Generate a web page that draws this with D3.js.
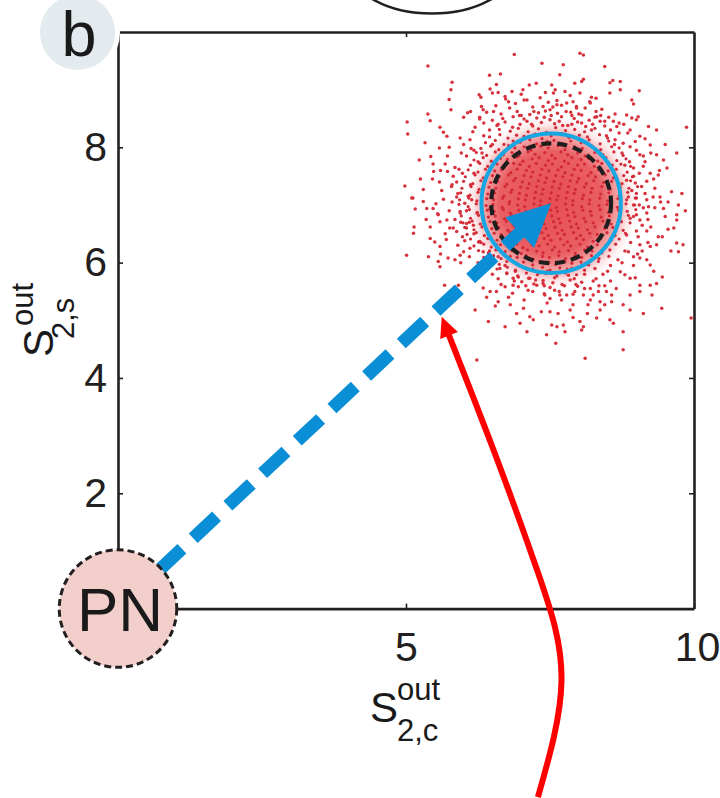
<!DOCTYPE html>
<html><head><meta charset="utf-8">
<script src="https://cdn.jsdelivr.net/npm/d3@7"></script>
<style>body{margin:0;background:#fff} svg{display:block}</style>
</head><body><svg id="c" width="720" height="798"></svg>
<script>
// ---------- data ----------
const xDomain = [0, 10];
const yDomain = [0, 10];
const xTicks = [5, 10];
const yTicks = [2, 4, 6, 8];
const xTickLabels = ["5", "10"];
const yTickLabels = ["2", "4", "6", "8"];
const pnCenter = [0, 0];
const pnRadius = 1.02;
const targetCenter = [7.52, 7.03];
const outerRadius = 1.21;
const innerRadius = 1.04;
const coreRadius = 1.5;
const redCurve = [[7.29,-3.27],[7.70,-1.24],[7.30,0.60],[6.52,2.75],[5.62,5.06]];
const topArc = [5.45, 11.08, 1.39, 0.76];
const cloudOuter = [
[6.88,9.61],[5.38,9.41],[7.36,9.46],[6.45,9.25],[6.64,9.27],[5.80,9.13],[6.57,9.09],[7.14,9.08],[7.26,9.11],[5.78,9.00],[6.46,9.01],[6.50,8.94],[6.27,8.91],[6.30,8.87],[6.72,8.88],[6.78,8.79],[6.84,8.97],[7.03,9.00],[7.10,8.82],[5.75,8.83],[5.02,8.44],[5.03,8.23],[5.38,8.58],[5.42,8.46],[5.78,8.65],[6.07,8.60],[6.00,8.52],[6.31,8.71],[6.34,8.65],[6.28,8.49],[5.59,8.35],[5.65,8.26],[5.71,8.19],[5.33,8.08],[5.58,7.99],[5.23,7.78],[5.43,7.84],[5.47,7.71],[4.98,7.33],[5.12,7.12],[5.30,7.27],[5.46,7.45],[5.58,7.40],[5.68,7.71],[5.72,7.58],[5.82,7.50],[5.79,7.32],[5.88,7.14],[5.94,8.16],[5.96,7.90],[6.11,8.13],[6.13,7.98],[6.16,8.27],
[8.02,9.63],[8.08,9.60],[7.73,9.43],[8.45,9.40],[7.67,9.26],[7.93,9.11],[8.05,9.14],[8.08,9.18],[8.54,9.12],[8.59,9.16],[8.72,9.14],[7.53,9.08],[7.59,9.00],[7.56,8.94],[7.76,8.97],[8.02,8.94],[8.22,8.87],[8.19,8.79],[8.54,8.94],[8.72,9.00],[9.05,8.98],[8.92,8.82],[8.95,8.75],[7.38,8.71],[7.50,8.65],[7.62,8.74],[7.79,8.77],[7.90,8.79],[7.96,8.68],[8.11,8.68],[8.31,8.53],[8.37,8.45],[8.45,8.45],[8.60,8.45],[8.66,8.36],[8.83,8.56],[8.92,8.51],[9.00,8.48],[9.03,8.53],[9.87,8.35],[8.89,8.30],[9.06,8.19],[9.21,8.36],[9.35,8.30],[8.63,8.13],[8.77,8.07],[8.89,8.01],[9.00,7.95],[9.06,7.87],[9.24,8.04],[9.35,7.87],[9.47,7.78],[9.70,7.90],[8.80,7.69],[8.95,7.64],[9.12,7.67],[9.24,7.55],[9.38,7.52],[9.53,7.64],[8.83,7.43],[8.98,7.38],[9.09,7.32],[9.18,7.41],[9.32,7.29],[9.41,7.14],[9.61,7.23],[9.79,7.20],[8.86,7.14],[9.00,7.12],[9.18,7.09],[9.29,7.14],
[9.73,7.00],[9.70,6.83],[9.70,6.74],[9.47,6.94],[9.50,6.80],[9.21,6.97],[9.18,6.86],[8.95,7.00],[9.00,6.83],[9.06,6.74],[8.89,6.77],[9.38,6.45],[9.35,6.31],[9.24,6.28],[9.06,6.31],[9.03,6.45],[9.70,6.34],[9.81,6.31],[9.73,6.19],[8.83,6.48],[8.86,6.19],[8.95,6.10],[9.06,6.08],[9.18,6.05],[9.24,5.96],[8.72,5.84],[8.80,5.79],[8.89,5.73],[8.98,5.74],[9.06,5.61],[9.24,5.61],[9.35,5.64],[8.89,5.44],[9.06,5.50],[9.27,5.44],[9.44,5.21],[9.95,5.04],[9.12,5.12],[8.89,5.18],[8.77,5.27],[8.57,5.32],[8.45,5.27],[8.37,5.18],[8.31,5.04],[8.54,5.01],[8.60,4.95],[8.77,4.80],[8.77,4.49],[8.11,4.34],[8.02,4.98],[8.08,4.89],[8.05,4.83],[7.73,4.92],[7.76,4.80],[7.62,4.89],[7.53,4.92],[7.44,4.75],[7.50,5.15],[7.64,5.12],[7.85,5.18],[7.90,5.27],[8.16,5.27],[8.37,5.32],[7.41,5.44],[7.50,5.38],[7.67,5.44],[7.79,5.44],[7.93,5.50],[8.08,5.44],[8.25,5.44],[8.34,5.50],[8.48,5.50],[8.57,5.44],
[5.10,7.12],[5.16,6.93],[5.14,6.62],[5.13,6.51],[5.01,6.13],[5.39,6.10],[5.42,6.42],[5.50,6.36],[5.59,6.28],[5.56,6.02],[5.59,5.93],[5.67,5.61],[5.91,5.61],[5.73,6.08],[5.85,6.05],[5.94,6.13],[6.00,6.19],[6.11,6.25],[5.30,7.06],[5.36,6.94],[5.47,6.94],[5.56,6.83],[5.59,6.71],[5.42,6.62],[5.71,6.74],[5.76,6.60],[5.88,6.54],[6.05,6.60],[6.17,6.65],[6.20,5.18],[6.43,4.98],[6.72,4.89],[6.23,4.31],[7.10,4.80],[6.60,5.32],[6.81,5.27],[6.92,5.12],[7.04,5.21],[7.15,5.06],[7.21,5.01],[6.34,5.56],[6.46,5.50],[6.57,5.50],[6.72,5.58],[6.86,5.61],[7.01,5.67],[7.15,5.73],[7.27,5.61],[7.38,5.64],[6.02,7.03],[6.14,7.09],[6.23,6.86],[6.34,6.80],[6.46,6.94],[5.94,6.86],[6.05,6.68],[6.46,6.42],[6.57,6.31],[6.26,6.36],[6.34,6.19],[6.46,5.96],[6.63,5.90],[6.75,5.82],[6.86,5.73],
[6.35,8.42],[6.58,8.38],[6.72,8.44],[6.98,8.40],[7.20,8.37],[7.35,8.43],[7.58,8.41],[7.81,8.38],[7.98,8.44],[8.24,8.40],[8.45,8.37],[8.70,8.42],
[6.28,8.52],[6.50,8.47],[6.86,8.53],[7.05,8.49],[7.27,8.51],[7.50,8.48],[7.70,8.53],[7.92,8.50],[8.18,8.47],[8.52,8.52],
[6.40,8.61],[6.65,8.58],[6.93,8.62],[7.15,8.57],[7.42,8.63],[7.63,8.59],[7.86,8.61],[8.05,8.56],[8.30,8.62],
[6.56,8.72],[6.90,8.76],[7.20,8.70],[7.47,8.78],[7.70,8.73],[7.96,8.71],[8.20,8.77],[6.73,8.84],[7.05,8.82],[7.33,8.86],[7.62,8.81],
[6.60,5.72],[6.88,5.68],[7.13,5.73],[7.38,5.69],[7.58,5.74],[7.85,5.70],[8.05,5.66],[8.30,5.72],[8.55,5.68],
[6.95,5.58],[7.22,5.63],[7.50,5.57],[7.71,5.62],[7.98,5.59],[8.20,5.55],[8.45,5.60],[6.85,5.47],[7.12,5.52],[7.40,5.46],[7.66,5.50],[7.90,5.45],
[9.15,7.75],[9.30,7.45],[9.12,6.95],[9.25,6.62],[9.42,7.05],[9.18,6.55],[9.55,6.58],[9.10,6.20],
[5.72,7.85],[5.60,7.60],[5.80,7.35],[5.65,7.10],[5.75,6.90],[5.55,6.85],[5.82,6.60],[5.70,6.40],[5.90,6.30],[5.85,7.65],[5.62,7.25],
[6.20,8.35],[6.45,8.30],[6.52,8.62],[6.68,8.50],[6.80,8.68],[6.97,8.55],[7.10,8.45],[7.22,8.62],[7.40,8.52],[7.55,8.70],[7.66,8.45],[7.78,8.62],[7.88,8.40],[8.00,8.58],[8.12,8.36],[8.28,8.52],[8.40,8.66],[8.55,8.30],[8.63,8.58],[8.78,8.40],[6.60,8.95],[7.00,8.92],[7.42,8.95],[7.85,8.90],[8.30,8.85],[6.12,8.62],[8.85,8.25],
[6.50,5.80],[6.65,5.62],[6.78,5.40],[6.95,5.75],[7.05,5.35],[7.20,5.50],[7.30,5.82],[7.45,5.30],[7.55,5.65],[7.70,5.35],[7.82,5.78],[7.95,5.62],[8.10,5.80],[8.20,5.35],[8.35,5.60],[8.50,5.85],[8.65,5.55],[8.75,6.00],[6.35,5.85],[6.25,6.00],[6.55,5.25],[7.35,5.15],[7.90,5.05],[8.15,5.12],[6.98,4.95],[7.60,4.60],[6.40,5.40],
[6.05,7.85],[5.92,7.62],[5.88,7.40],[5.80,7.05],[5.85,6.75],[5.98,6.45],[6.10,6.10],[6.18,7.95],[6.00,8.05],[5.75,8.00],[5.68,6.50],[5.52,7.02],[5.60,6.15],[5.95,6.00],[6.20,5.82],[5.48,7.58],[5.35,6.75],[5.25,7.45],
[9.05,7.55],[9.15,7.20],[9.10,6.65],[9.02,6.15],[8.95,5.95],[9.25,7.90],[9.32,6.95],[9.45,6.45],[9.20,6.35],[9.40,7.60],[9.55,7.05],[9.60,6.20],[8.98,8.10],[9.15,8.15],[9.50,8.05],[9.65,6.60],[9.85,6.90],[9.30,5.85],[9.45,5.75],
[6.35,8.20],[6.50,8.05],[6.60,8.40],[6.85,8.35],[7.00,8.55],[7.18,8.40],[7.30,8.60],[7.52,8.55],[7.72,8.38],[7.88,8.55],[8.05,8.42],[8.22,8.30],[8.38,8.55],[8.48,8.20],[8.62,8.05],[8.70,8.25],
[8.75,7.90],[8.88,7.75],[8.95,7.50],[8.92,7.25],[9.05,7.00],[8.95,6.80],[9.00,6.55],[8.90,6.35],[8.80,6.20],[8.68,6.05],[9.12,7.85],[9.20,6.75],
[8.55,5.95],[8.42,5.80],[8.25,5.68],[8.10,5.55],[7.92,5.72],[7.75,5.60],[7.58,5.52],[7.40,5.60],[7.25,5.70],[7.08,5.60],[6.90,5.85],[6.72,5.95],[6.60,6.10],[7.45,5.85],[7.88,5.90],[8.28,5.90],
[6.45,6.20],[6.30,6.35],[6.18,6.50],[6.10,6.70],[6.05,6.90],[6.08,7.15],[6.12,7.35],[6.18,7.55],[6.25,7.75],[6.32,7.90],[5.98,7.55],[5.90,7.20],[5.95,6.70],[6.02,6.38],[6.35,6.05]
];
const cloudCore = [
[6.62,8.31],[6.81,8.28],[6.95,8.33],[7.12,8.27],[7.30,8.32],[7.44,8.26],[7.60,8.34],[7.77,8.29],[7.93,8.31],[8.10,8.27],[8.28,8.33],
[6.45,8.18],[6.63,8.22],[6.77,8.16],[6.92,8.21],[7.05,8.19],[7.24,8.23],[7.36,8.15],[7.52,8.20],[7.71,8.24],[7.83,8.17],[8.01,8.21],[8.15,8.18],[8.36,8.22],[8.50,8.16],
[6.38,8.08],[6.55,8.12],[6.70,8.05],[6.86,8.11],[6.98,8.09],[7.15,8.13],[7.27,8.06],[7.45,8.10],[7.57,8.12],[7.73,8.05],[7.86,8.11],[8.04,8.08],[8.18,8.13],[8.37,8.06],[8.52,8.11],
[6.30,7.98],[6.47,8.02],[6.61,7.96],[6.78,8.03],[6.89,7.99],[7.05,8.01],[7.17,7.95],[7.34,8.02],[7.47,7.99],[7.64,8.03],[7.76,7.96],[7.93,8.01],[8.06,7.98],[8.23,8.02],[8.38,7.96],[8.57,8.01],[8.70,7.99],
[6.22,7.91],[6.40,7.86],[6.55,7.92],[6.69,7.87],[6.84,7.91],[6.96,7.85],[7.12,7.92],[7.24,7.88],[7.41,7.91],[7.53,7.86],[7.69,7.92],[7.81,7.87],[7.98,7.90],[8.11,7.85],[8.28,7.91],[8.42,7.87],[8.61,7.92],[8.77,7.86],
[6.18,7.78],[6.34,7.82],[6.48,7.76],[6.64,7.81],[6.76,7.79],[6.92,7.83],[7.03,7.76],[7.19,7.80],[7.31,7.82],[7.47,7.77],[7.59,7.81],[7.75,7.76],[7.88,7.82],[8.04,7.79],[8.17,7.81],[8.33,7.76],[8.47,7.82],[8.66,7.77],[8.82,7.80],
[6.12,7.69],[6.28,7.72],[6.42,7.67],[6.58,7.71],[6.71,7.66],[6.87,7.72],[6.98,7.70],[7.14,7.67],[7.26,7.72],[7.42,7.69],[7.54,7.71],[7.70,7.66],[7.82,7.72],[7.98,7.69],[8.10,7.71],[8.27,7.67],[8.40,7.72],[8.58,7.69],[8.73,7.71],[8.90,7.67],
[6.08,7.61],[6.25,7.57],[6.38,7.62],[6.54,7.59],[6.66,7.61],[6.82,7.56],[6.93,7.62],[7.09,7.60],[7.20,7.57],[7.36,7.62],[7.48,7.59],[7.64,7.61],[7.76,7.56],[7.92,7.62],[8.04,7.60],[8.21,7.56],[8.34,7.61],[8.51,7.59],[8.65,7.62],[8.84,7.57],
[6.03,7.49],[6.20,7.52],[6.34,7.47],[6.50,7.51],[6.62,7.49],[6.78,7.52],[6.90,7.46],[7.05,7.51],[7.17,7.49],[7.33,7.52],[7.44,7.47],[7.60,7.51],[7.72,7.49],[7.88,7.52],[8.00,7.46],[8.16,7.51],[8.29,7.49],[8.46,7.52],[8.60,7.47],[8.78,7.51],[8.93,7.49],
[6.00,7.41],[6.16,7.37],[6.30,7.42],[6.47,7.39],[6.59,7.41],[6.75,7.36],[6.87,7.42],[7.02,7.40],[7.14,7.37],[7.30,7.42],[7.41,7.39],[7.57,7.41],[7.69,7.36],[7.85,7.42],[7.97,7.40],[8.13,7.37],[8.26,7.42],[8.43,7.39],[8.57,7.41],[8.75,7.37],[8.90,7.42],
[5.97,7.29],[6.13,7.32],[6.27,7.27],[6.44,7.31],[6.56,7.29],[6.72,7.32],[6.84,7.26],[6.99,7.31],[7.11,7.29],[7.27,7.32],[7.38,7.27],[7.54,7.31],[7.66,7.29],[7.82,7.32],[7.94,7.27],[8.10,7.31],[8.23,7.29],[8.40,7.32],[8.54,7.27],[8.72,7.31],[8.87,7.29],[9.02,7.32],
[5.95,7.21],[6.11,7.17],[6.25,7.22],[6.42,7.19],[6.54,7.21],[6.70,7.16],[6.82,7.22],[6.97,7.20],[7.09,7.17],[7.25,7.22],[7.36,7.19],[7.52,7.21],[7.64,7.16],[7.80,7.22],[7.92,7.20],[8.08,7.17],[8.21,7.22],[8.38,7.19],[8.52,7.21],[8.70,7.16],[8.85,7.22],[9.00,7.20],
[5.93,7.09],[6.09,7.12],[6.23,7.07],[6.40,7.11],[6.52,7.09],[6.68,7.12],[6.80,7.06],[6.95,7.11],[7.07,7.09],[7.23,7.12],[7.34,7.07],[7.50,7.11],[7.62,7.09],[7.78,7.12],[7.90,7.07],[8.06,7.11],[8.19,7.09],[8.36,7.12],[8.50,7.07],[8.68,7.11],[8.83,7.09],[8.98,7.12],
[5.92,7.01],[6.08,6.97],[6.22,7.02],[6.39,6.99],[6.51,7.01],[6.67,6.96],[6.79,7.02],[6.94,7.00],[7.06,6.97],[7.22,7.02],[7.33,6.99],[7.49,7.01],[7.61,6.96],[7.77,7.02],[7.89,7.00],[8.05,6.97],[8.18,7.02],[8.35,6.99],[8.49,7.01],[8.67,6.96],[8.82,7.02],[8.97,7.00],
[5.94,6.89],[6.10,6.92],[6.24,6.87],[6.41,6.91],[6.53,6.89],[6.69,6.92],[6.81,6.86],[6.96,6.91],[7.08,6.89],[7.24,6.92],[7.35,6.87],[7.51,6.91],[7.63,6.89],[7.79,6.92],[7.91,6.87],[8.07,6.91],[8.20,6.89],[8.37,6.92],[8.51,6.87],[8.69,6.91],[8.84,6.89],[8.99,6.92],
[5.96,6.81],[6.12,6.77],[6.26,6.82],[6.43,6.79],[6.55,6.81],[6.71,6.76],[6.83,6.82],[6.98,6.80],[7.10,6.77],[7.26,6.82],[7.37,6.79],[7.53,6.81],[7.65,6.76],[7.81,6.82],[7.93,6.80],[8.09,6.77],[8.22,6.82],[8.39,6.79],[8.53,6.81],[8.71,6.76],[8.86,6.82],
[5.99,6.69],[6.15,6.72],[6.29,6.67],[6.46,6.71],[6.58,6.69],[6.74,6.72],[6.86,6.66],[7.01,6.71],[7.13,6.69],[7.29,6.72],[7.40,6.67],[7.56,6.71],[7.68,6.69],[7.84,6.72],[7.96,6.67],[8.12,6.71],[8.25,6.69],[8.42,6.72],[8.56,6.67],[8.74,6.71],[8.89,6.69],
[6.02,6.61],[6.18,6.57],[6.32,6.62],[6.49,6.59],[6.61,6.61],[6.77,6.56],[6.89,6.62],[7.04,6.60],[7.16,6.57],[7.32,6.62],[7.43,6.59],[7.59,6.61],[7.71,6.56],[7.87,6.62],[7.99,6.60],[8.15,6.57],[8.28,6.62],[8.45,6.59],[8.59,6.61],[8.77,6.56],
[6.06,6.49],[6.22,6.52],[6.36,6.47],[6.53,6.51],[6.65,6.49],[6.81,6.52],[6.93,6.46],[7.08,6.51],[7.20,6.49],[7.36,6.52],[7.47,6.47],[7.63,6.51],[7.75,6.49],[7.91,6.52],[8.03,6.47],[8.19,6.51],[8.32,6.49],[8.49,6.52],[8.63,6.47],[8.81,6.51],
[6.12,6.41],[6.28,6.37],[6.42,6.42],[6.58,6.39],[6.70,6.41],[6.86,6.36],[6.97,6.42],[7.13,6.40],[7.25,6.37],[7.40,6.42],[7.52,6.39],[7.68,6.41],[7.80,6.36],[7.96,6.42],[8.08,6.40],[8.25,6.37],[8.38,6.42],[8.56,6.39],[8.70,6.41],
[6.18,6.29],[6.35,6.32],[6.48,6.27],[6.64,6.31],[6.76,6.29],[6.92,6.32],[7.03,6.26],[7.19,6.31],[7.31,6.29],[7.46,6.32],[7.58,6.27],[7.74,6.31],[7.86,6.29],[8.02,6.32],[8.15,6.27],[8.32,6.31],[8.46,6.29],[8.64,6.32],
[6.26,6.21],[6.43,6.17],[6.56,6.22],[6.72,6.19],[6.84,6.21],[7.00,6.16],[7.11,6.22],[7.27,6.20],[7.38,6.17],[7.54,6.22],[7.66,6.19],[7.82,6.21],[7.94,6.16],[8.10,6.22],[8.23,6.20],[8.40,6.17],[8.54,6.22],
[6.35,6.09],[6.52,6.12],[6.65,6.07],[6.81,6.11],[6.93,6.09],[7.09,6.12],[7.21,6.06],[7.37,6.11],[7.49,6.09],[7.65,6.12],[7.77,6.07],[7.93,6.11],[8.05,6.09],[8.22,6.12],[8.35,6.07],[8.52,6.11],
[6.45,6.01],[6.62,5.97],[6.75,6.02],[6.92,5.99],[7.04,6.01],[7.20,5.96],[7.32,6.02],[7.48,6.00],[7.60,5.97],[7.76,6.02],[7.88,5.99],[8.04,6.01],[8.17,5.96],[8.34,6.02],
[6.58,5.89],[6.76,5.92],[6.90,5.87],[7.07,5.91],[7.20,5.89],[7.37,5.92],[7.50,5.87],[7.67,5.91],[7.80,5.89],[7.97,5.92],[8.10,5.87],
[6.75,5.81],[6.94,5.77],[7.09,5.82],[7.28,5.79],[7.43,5.81],[7.62,5.77],[7.77,5.82],[7.96,5.79]
];

// ---------- scales ----------
const x = d3.scaleLinear().domain(xDomain).range([118, 694]);
const y = d3.scaleLinear().domain(yDomain).range([608.6, 32]);
const ink = "#231f20";
const font = "'Liberation Sans', Arial, Helvetica, sans-serif";
const r = v => x(v) - x(0);

const svg = d3.select("#c");
const defs = svg.append("defs");
defs.append("clipPath").attr("id", "plotClip").append("rect")
  .attr("x", x(0)).attr("y", y(10)).attr("width", x(10) - x(0)).attr("height", y(0) - y(10));

const grad = defs.append("radialGradient").attr("id", "dens")
  .attr("gradientUnits", "userSpaceOnUse")
  .attr("cx", x(targetCenter[0])).attr("cy", y(targetCenter[1])).attr("r", r(coreRadius));
[[0, 0.88], [0.6, 0.8], [0.78, 0.45], [0.9, 0.12], [1, 0]].forEach(([o, a]) => {
  grad.append("stop").attr("offset", o).attr("stop-color", "#e4363b").attr("stop-opacity", a);
});

// ---------- scatter cloud ----------
const cloud = svg.append("g").attr("clip-path", "url(#plotClip)");
cloud.append("circle").attr("cx", x(targetCenter[0])).attr("cy", y(targetCenter[1])).attr("r", r(coreRadius))
  .attr("fill", "url(#dens)");
cloud.selectAll("circle.o").data(cloudOuter).join("circle").attr("class", "o")
  .attr("cx", d => x(d[0])).attr("cy", d => y(d[1])).attr("r", 1.75)
  .attr("fill", "#d8323d");
cloud.selectAll("circle.k").data(cloudCore).join("circle").attr("class", "k")
  .attr("cx", d => x(d[0])).attr("cy", d => y(d[1])).attr("r", 1.6)
  .attr("fill", "#d22a38");

// ---------- target circles ----------
svg.append("circle").attr("cx", x(targetCenter[0])).attr("cy", y(targetCenter[1]))
  .attr("r", r(outerRadius)).attr("fill", "none").attr("stroke", "#16a6e1").attr("stroke-width", 4);
svg.append("circle").attr("cx", x(targetCenter[0])).attr("cy", y(targetCenter[1]))
  .attr("r", r(innerRadius)).attr("fill", "none").attr("stroke", "#1e1e1e").attr("stroke-width", 4.2)
  .attr("stroke-dasharray", "10 6");

// ---------- axes (box with inward ticks) ----------
function styleAxis(g) {
  g.select(".domain").attr("stroke", ink).attr("stroke-width", 2.6);
  g.selectAll(".tick line").attr("stroke", ink).attr("stroke-width", 1.6);
  g.selectAll("text").attr("fill", ink).style("font-family", font).style("font-size", "41px");
}
const xAxisG = svg.append("g").attr("transform", `translate(0,${y(0)})`)
  .call(d3.axisBottom(x).tickValues(xTicks).tickFormat((d, i) => xTickLabels[i]).tickSize(-5).tickSizeOuter(0).tickPadding(23))
  .call(styleAxis);
xAxisG.selectAll(".tick text").filter(d => d === 10).attr("x", 3);
svg.append("g").attr("transform", `translate(${x(0)},0)`)
  .call(d3.axisLeft(y).tickValues(yTicks).tickFormat((d, i) => yTickLabels[i]).tickSize(-5).tickSizeOuter(0).tickPadding(11))
  .call(styleAxis);
svg.append("g").attr("transform", `translate(0,${y(10)})`)
  .call(d3.axisTop(x).tickValues([5]).tickFormat("").tickSize(-5).tickSizeOuter(0))
  .call(styleAxis);
svg.append("g").attr("transform", `translate(${x(10)},0)`)
  .call(d3.axisRight(y).tickValues(yTicks).tickFormat("").tickSize(-5).tickSizeOuter(0))
  .call(styleAxis);

// ---------- blue dashed arrow ----------
const p0 = [x(pnCenter[0]), y(pnCenter[1])];
const p1 = [x(targetCenter[0]), y(targetCenter[1])];
const dx = p1[0] - p0[0], dy = p1[1] - p0[1], len = Math.hypot(dx, dy);
const ux = dx / len, uy = dy / len;
const headLen = 43, headHalf = 21;
const base = [p1[0] - ux * headLen, p1[1] - uy * headLen];
svg.append("line").attr("x1", p0[0]).attr("y1", p0[1]).attr("x2", base[0] + ux * 2).attr("y2", base[1] + uy * 2)
  .attr("stroke", "#0a8fd6").attr("stroke-width", 13)
  .attr("stroke-dasharray", "32 15.5").attr("stroke-dashoffset", 39.5);
svg.append("path")
  .attr("d", `M${p1[0]},${p1[1]}L${base[0] - uy * headHalf},${base[1] + ux * headHalf}L${base[0] + uy * headHalf},${base[1] - ux * headHalf}Z`)
  .attr("fill", "#0a8fd6");

// ---------- red curved arrow ----------
const redPath = svg.append("path")
  .attr("d", d3.line().x(d => x(d[0])).y(d => y(d[1])).curve(d3.curveNatural)(redCurve))
  .attr("fill", "none").attr("stroke", "#ff0000").attr("stroke-width", 6);
const L = redPath.node().getTotalLength();
redPath.attr("stroke-dasharray", `${L - 15} ${L + 50}`);
const tip = [x(redCurve[redCurve.length - 1][0]), y(redCurve[redCurve.length - 1][1])];
const back = redPath.node().getPointAtLength(L - 20);
let rx = tip[0] - back.x, ry = tip[1] - back.y; const rl = Math.hypot(rx, ry); rx /= rl; ry /= rl;
const rb = [tip[0] - rx * 20, tip[1] - ry * 20];
svg.append("path")
  .attr("d", `M${tip[0]},${tip[1]}L${rb[0] - ry * 9.5},${rb[1] + rx * 9.5}L${rb[0] + ry * 9.5},${rb[1] - rx * 9.5}Z`)
  .attr("fill", "#ff0000");

// ---------- PN circle ----------
svg.append("circle").attr("cx", p0[0]).attr("cy", p0[1]).attr("r", r(pnRadius))
  .attr("fill", "#f3cfcb").attr("stroke", ink).attr("stroke-width", 3).attr("stroke-dasharray", "7 4");
svg.append("text").attr("x", p0[0] + 2).attr("y", p0[1] + 22).attr("text-anchor", "middle")
  .style("font-family", font).style("font-size", "62px").attr("fill", "#1a1a1a").text("PN");

// ---------- panel badge ----------
svg.append("circle").attr("cx", 77.5).attr("cy", 32.5).attr("r", 40)
  .attr("fill", "#e3ebee").attr("stroke", "#fff").attr("stroke-width", 5);
svg.append("text").attr("x", 79).attr("y", 56).attr("text-anchor", "middle")
  .style("font-family", font).style("font-size", "63px").attr("fill", "#1a1a1a").text("b");

// ---------- neighbouring panel arc ----------
svg.append("ellipse").attr("cx", x(topArc[0])).attr("cy", y(topArc[1]))
  .attr("rx", r(topArc[2])).attr("ry", y(0) - y(topArc[3]))
  .attr("fill", "none").attr("stroke", ink).attr("stroke-width", 2.5);

// ---------- axis labels ----------
const xl = svg.append("g").attr("fill", "#1a1a1a").style("font-family", font);
xl.append("text").attr("x", 370).attr("y", 722).style("font-size", "42px").text("S");
xl.append("text").attr("x", 397).attr("y", 700).style("font-size", "31px").text("out");
xl.append("text").attr("x", 397).attr("y", 741).style("font-size", "31px").text("2,c");

const yl = svg.append("g").attr("fill", "#1a1a1a").style("font-family", font);
yl.append("text").attr("transform", "translate(53,357) rotate(-90)").style("font-size", "42px").text("S");
yl.append("text").attr("transform", "translate(33,326) rotate(-90)").style("font-size", "31px").text("out");
yl.append("text").attr("transform", "translate(74,339) rotate(-90)").style("font-size", "31px").text("2,s");
</script></body></html>
